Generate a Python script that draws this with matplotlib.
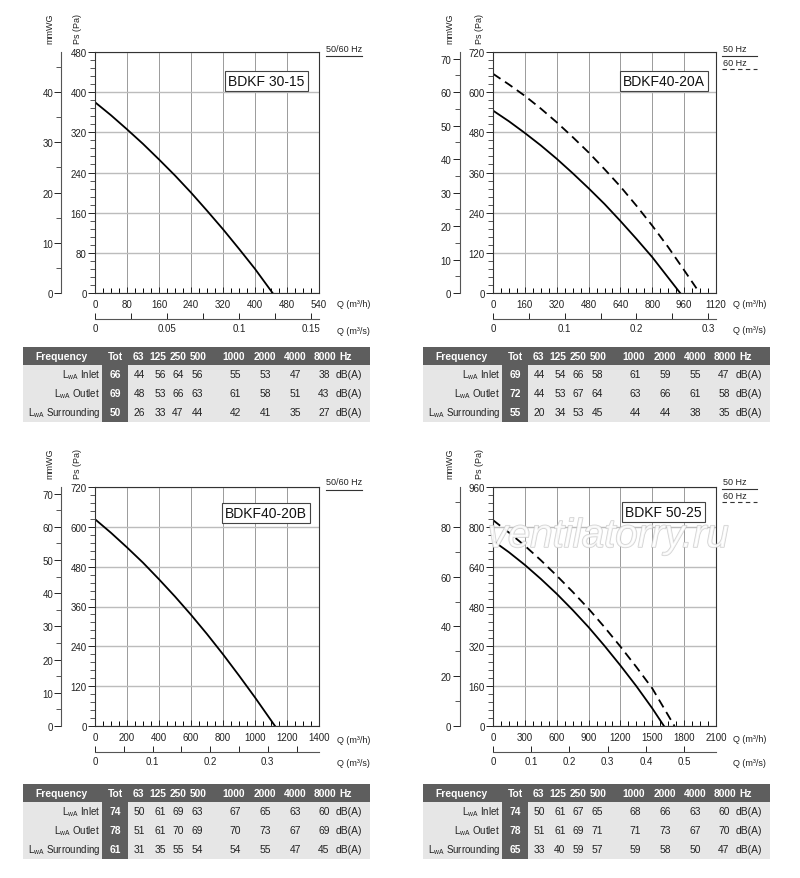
import numpy as np
import matplotlib.pyplot as plt
import matplotlib.patheffects as pe
from matplotlib.patches import Rectangle
from matplotlib.ticker import MultipleLocator, FuncFormatter

plt.rcParams['font.family'] = ['Liberation Sans', 'DejaVu Sans']

W, H = 800, 879

models = ['BDKF 30-15', 'BDKF40-20A', 'BDKF40-20B', 'BDKF 50-25']

# fan curves, Q in m3/h, Ps in Pa
q_3015 = [0, 40, 80, 120, 160, 200, 240, 280, 320, 360, 400, 444]
ps_3015 = [380, 354, 326, 297, 266, 234, 200, 164, 127, 88, 48, 0]

q_4020a_50 = [0, 80, 160, 240, 320, 400, 480, 560, 640, 720, 800, 940]
ps_4020a_50 = [545, 513, 478, 441, 401, 358, 313, 266, 215, 162, 107, 0]
q_4020a_60 = [0, 80, 160, 240, 320, 400, 480, 560, 640, 720, 800, 880, 960, 1038]
ps_4020a_60 = [655, 623, 589, 551, 510, 466, 420, 370, 318, 261, 201, 137, 68, 0]

q_4020b = [0, 100, 200, 300, 400, 500, 600, 700, 800, 900, 1000, 1125]
ps_4020b = [623, 582, 538, 492, 442, 390, 335, 277, 216, 152, 86, 0]

q_5025_50 = [0, 150, 300, 450, 600, 750, 900, 1050, 1200, 1350, 1500, 1610]
ps_5025_50 = [744, 698, 647, 591, 531, 466, 397, 322, 243, 160, 71, 0]
q_5025_60 = [0, 150, 300, 450, 600, 750, 900, 1050, 1200, 1350, 1500, 1709]
ps_5025_60 = [827, 777, 724, 666, 604, 539, 471, 397, 319, 237, 151, 0]

# x tick labels as printed (the first chart prints 540 at its last grid line)
xlabels_3015 = ['0', '80', '160', '240', '320', '400', '480', '540']

# sound power tables
bands = ['63', '125', '250', '500', '1000', '2000', '4000', '8000']
row_names = ['Inlet', 'Outlet', 'Surrounding']
tot_3015 = [66, 69, 50]
lw_3015 = [[44, 56, 64, 56, 55, 53, 47, 38],
           [48, 53, 66, 63, 61, 58, 51, 43],
           [26, 33, 47, 44, 42, 41, 35, 27]]
tot_4020a = [69, 72, 55]
lw_4020a = [[44, 54, 66, 58, 61, 59, 55, 47],
            [44, 53, 67, 64, 63, 66, 61, 58],
            [20, 34, 53, 45, 44, 44, 38, 35]]
tot_4020b = [74, 78, 61]
lw_4020b = [[50, 61, 69, 63, 67, 65, 63, 60],
            [51, 61, 70, 69, 70, 73, 67, 69],
            [31, 35, 55, 54, 54, 55, 47, 45]]
tot_5025 = [74, 78, 65]
lw_5025 = [[50, 61, 67, 65, 68, 66, 63, 60],
           [51, 61, 69, 71, 71, 73, 67, 70],
           [33, 40, 59, 57, 59, 58, 50, 47]]

fig = plt.figure(figsize=(W / 100, H / 100), dpi=100)
ov = fig.add_axes([0, 0, 1, 1], zorder=-1)
ov.set_xlim(0, W)
ov.set_ylim(H, 0)
ov.axis('off')

TXT = '#222222'
FS = 7


def fmt_g(v, p):
    return '%g' % round(v, 4)


def panel(x0, y0, x1, y1, curves, xmax, xstep, xminor, ymax, ystep, yminor,
          mmstep, mmminor, sstep, sminor, name, name_y, xlabels=None):
    ax = fig.add_axes([x0 / W, 1 - y1 / H, (x1 - x0) / W, (y1 - y0) / H])
    ax.set_xlim(0, xmax)
    ax.set_ylim(0, ymax)
    ax.xaxis.set_major_locator(MultipleLocator(xstep))
    ax.xaxis.set_minor_locator(MultipleLocator(xminor))
    if xlabels is not None:
        ax.set_xticks(np.arange(len(xlabels)) * xstep, xlabels)
    ax.yaxis.set_major_locator(MultipleLocator(ystep))
    ax.yaxis.set_minor_locator(MultipleLocator(yminor))
    ax.grid(axis='x', which='major', color='#9a9a9a', lw=0.7)
    ax.grid(axis='y', which='major', color='#bcbcbc', lw=1.0)
    ax.tick_params(axis='x', which='major', direction='in', length=4, width=0.7,
                   labelsize=FS, pad=4, colors=TXT)
    ax.tick_params(axis='x', which='minor', direction='in', length=3.5, width=0.7)
    ax.tick_params(axis='y', which='major', direction='out', length=5, width=0.7,
                   labelsize=FS, pad=1, colors=TXT)
    ax.tick_params(axis='y', which='minor', direction='out', length=3.5, width=0.7,
                   color='#555555')
    for s in ax.spines.values():
        s.set_color('#333333')
        s.set_linewidth(0.8)

    for q, ps, ls in curves:
        ax.plot(q, ps, color='black', lw=1.3, ls=ls, solid_joinstyle='round')

    ax.text(0.765, name_y, name, transform=ax.transAxes, ha='center', va='center',
            fontsize=10, color='#111111',
            bbox=dict(boxstyle='square,pad=0.22', fc='white', ec='#444444', lw=0.8))

    # mmWG axis
    mm = ax.secondary_yaxis(-0.15, functions=(lambda p: p / 10, lambda m: m * 10))
    mm.yaxis.set_major_locator(MultipleLocator(mmstep))
    mm.yaxis.set_minor_locator(MultipleLocator(mmminor))
    mm.tick_params(which='major', direction='out', length=5, width=0.7,
                   labelsize=FS, pad=1, colors=TXT)
    mm.tick_params(which='minor', direction='out', length=3.5, width=0.7, color='#555555')
    mm.spines['left'].set_color('#555555')
    mm.spines['left'].set_linewidth(0.8)

    # m3/s axis
    off = (26 / (y1 - y0))
    sx = ax.secondary_xaxis(-off, functions=(lambda q: q / 3600, lambda s: s * 3600))
    sx.xaxis.set_major_locator(MultipleLocator(sstep))
    if sminor:
        sx.xaxis.set_minor_locator(MultipleLocator(sminor))
    sx.xaxis.set_major_formatter(FuncFormatter(fmt_g))
    sx.tick_params(which='both', direction='in', length=4, width=0.7,
                   labelsize=FS, pad=3, colors=TXT)
    sx.spines['bottom'].set_color('#555555')
    sx.spines['bottom'].set_linewidth(0.8)
    return ax


solid = '-'
dash = (0, (5, 3))

panel(95, 53, 319, 294, [(q_3015, ps_3015, solid)],
      560, 80, 20, 480, 80, 16, 10, 5, 0.05, 0.025, models[0], 0.878, xlabels_3015)
panel(493, 53, 716, 294, [(q_4020a_50, ps_4020a_50, solid), (q_4020a_60, ps_4020a_60, dash)],
      1120, 160, 40, 720, 120, 24, 10, 5, 0.1, 0.05, models[1], 0.88)
panel(95, 488, 319, 727, [(q_4020b, ps_4020b, solid)],
      1400, 200, 50, 720, 120, 24, 10, 5, 0.1, 0.05, models[2], 0.893)
panel(493, 488, 716, 727, [(q_5025_50, ps_5025_50, solid), (q_5025_60, ps_5025_60, dash)],
      2100, 300, 75, 960, 160, 32, 20, 10, 0.1, None, models[3], 0.895)

# axis titles
for xm, xp, ty in [(50, 78, 29), (450, 479, 29), (50, 78, 464), (450, 479, 464)]:
    ov.text(xm, ty, 'mmWG', rotation=90, ha='center', va='center', fontsize=6.5, color=TXT)
    ov.text(xp, ty, 'Ps (Pa)', rotation=90, ha='center', va='center', fontsize=6.5, color=TXT)
for xq, yh, ys in [(337, 305, 332), (733, 305, 331), (337, 741, 764), (733, 740, 764)]:
    ov.text(xq, yh, 'Q (m³/h)', ha='left', va='center', fontsize=6.5, color=TXT)
    ov.text(xq, ys, 'Q (m³/s)', ha='left', va='center', fontsize=6.5, color=TXT)

# frequency legends
for ty in [49, 483]:
    ov.text(326, ty, '50/60 Hz', ha='left', va='center', fontsize=6.5, color=TXT)
    ov.plot([326, 362], [ty + 8, ty + 8], color='#333333', lw=0.8)
for ty in [50, 483]:
    ov.text(723, ty, '50 Hz', ha='left', va='center', fontsize=6.5, color=TXT)
    ov.plot([722, 757], [ty + 6.5, ty + 6.5], color='#333333', lw=0.8)
    ov.text(723, ty + 13.5, '60 Hz', ha='left', va='center', fontsize=6.5, color=TXT)
    ov.plot([722, 757], [ty + 20, ty + 20], color='#333333', lw=0.8, ls=(0, (4, 3)))

# tables
DARK = '#5e5e5e'
LIGHT = '#e6e6e6'
TFS = 7.4
head_x = [115, 135, 155, 175, 211, 242, 272, 302]
val_x = [116, 137, 155, 174, 212, 242, 272, 301]


def table(x0, yt, tot, vals):
    ov.add_patch(Rectangle((x0, yt), 347, 18, fc=DARK, ec='none'))
    ov.add_patch(Rectangle((x0, yt + 18), 347, 57, fc=LIGHT, ec='none'))
    ov.add_patch(Rectangle((x0 + 79, yt + 18), 26, 57, fc=DARK, ec='none'))
    hy = yt + 9
    ov.text(x0 + 39, hy, 'Frequency', ha='center', va='center', fontsize=TFS,
            color='white', weight='bold')
    ov.text(x0 + 92, hy, 'Tot', ha='center', va='center', fontsize=TFS,
            color='white', weight='bold')
    for hx, b in zip(head_x, bands):
        ov.text(x0 + hx, hy, b, ha='center', va='center', fontsize=TFS,
                color='white', weight='bold')
    ov.text(x0 + 316, hy, 'Hz', ha='left', va='center', fontsize=TFS,
            color='white', weight='bold')
    for i, rn in enumerate(row_names):
        ry = yt + 27.5 + i * 19
        ov.text(x0 + 77, ry, r'L$_{\mathregular{wA}}$ ' + rn, ha='right', va='center',
                fontsize=7, color=TXT)
        ov.text(x0 + 92, ry, str(tot[i]), ha='center', va='center', fontsize=TFS,
                color='white', weight='bold')
        for vx, v in zip(val_x, vals[i]):
            ov.text(x0 + vx, ry, str(v), ha='center', va='center', fontsize=TFS, color=TXT)
        ov.text(x0 + 313, ry, 'dB(A)', ha='left', va='center', fontsize=TFS, color=TXT)


table(23, 348, tot_3015, lw_3015)
table(423, 348, tot_4020a, lw_4020a)
table(23, 785, tot_4020b, lw_4020b)
table(423, 785, tot_5025, lw_5025)

# watermark
fig.text(608 / W, 1 - 537 / H, 'ventilatorry.ru', ha='center', va='center',
         fontsize=29, style='italic', color='white', alpha=0.75,
         path_effects=[pe.withStroke(linewidth=1.1, foreground='#c4c4c4')])

fig.savefig('out.png', dpi=100)
